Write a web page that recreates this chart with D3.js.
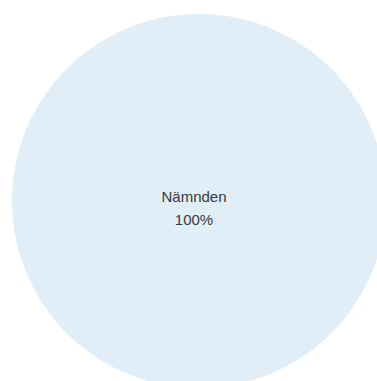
<!DOCTYPE html>
<html>
<head>
<meta charset="utf-8">
<script src="https://cdn.jsdelivr.net/npm/d3@7"></script>
<style>
  body { margin: 0; background: #fff; }
  svg { display: block; }
</style>
</head>
<body>
<script>
// data van de taartdiagram
var categories = ["Nämnden"]
var values = [100]
var colors = ["#e1eef7"]

var width = 377
var height = 381
var center = {x: 199, y: 201}
var radius = 187

var svg = d3.select("body").append("svg")
    .attr("width", width)
    .attr("height", height)

var g = svg.append("g")
    .attr("transform", `translate(${center.x},${center.y})`)

var pie = d3.pie().sort(null)
var arc = d3.arc().innerRadius(0).outerRadius(radius)
var total = d3.sum(values)

var slices = g.selectAll(".slice")
  .data(pie(values))
  .enter().append("g")
  .attr("class", "slice")

slices.append("path")
  .attr("d", arc)
  .style("fill", (d, i) => colors[i])

// label in het midden
var label = slices.append("text")
  .attr("transform", "translate(-5,0)")
  .style("font-family", "'Liberation Sans', Arial, sans-serif")
  .style("font-size", "15px")
  .style("fill", "#3a3a3a")
  .style("text-anchor", "middle")

label.append("tspan")
  .attr("x", 0)
  .attr("y", 1)
  .text((d, i) => categories[i])

label.append("tspan")
  .attr("x", 0)
  .attr("y", 24)
  .text(d => Math.round(d.value / total * 100) + "%")
</script>
</body>
</html>
